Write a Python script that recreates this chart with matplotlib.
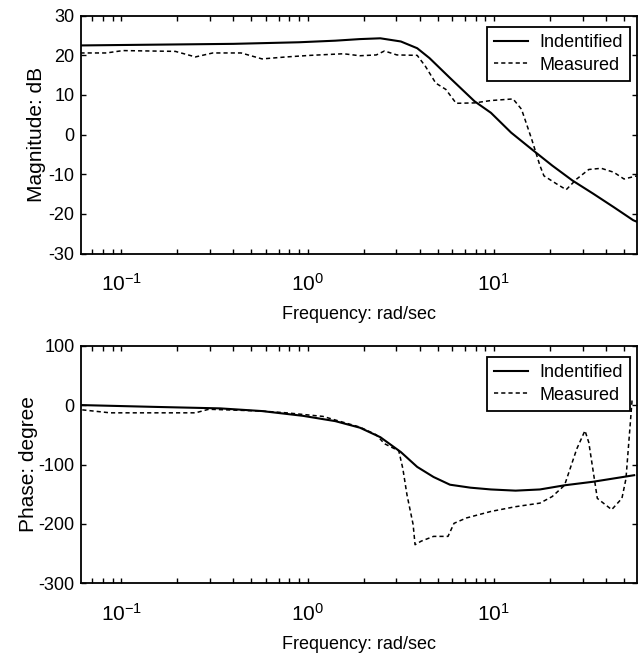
import numpy as np
import matplotlib
matplotlib.use("Agg")
import matplotlib.pyplot as plt
from matplotlib.ticker import LogLocator, NullFormatter

# magnitude data (rad/sec, dB)
f_mag_id = [0.0603, 0.40, 0.90, 1.41, 1.91, 2.46, 3.17, 3.88, 4.52, 5.82, 7.89,
            9.66, 12.4, 16.0, 20.6, 26.5, 34.2, 44.1, 56.1, 58.8]
mag_id = [22.5, 22.9, 23.3, 23.7, 24.1, 24.3, 23.5, 21.8, 19.3, 14.3, 8.4,
          5.5, 0.5, -3.7, -7.8, -11.6, -14.9, -18.3, -21.6, -22.0]

f_mag_meas = [0.0603, 0.083, 0.102, 0.195, 0.25, 0.31, 0.44, 0.57, 0.77, 1.04,
              1.56, 1.91, 2.34, 2.59, 3.02, 3.88, 4.30, 4.88, 5.53, 6.28, 7.89,
              9.66, 12.7, 14.1, 16.0, 17.7, 18.6, 21.7, 24.5, 27.9, 32.4, 37.8,
              44.1, 50.1, 58.8]
mag_meas = [20.6, 20.6, 21.2, 21.0, 19.6, 20.6, 20.6, 19.1, 19.6, 20.0,
            20.4, 19.9, 20.1, 21.1, 20.1, 20.0, 17.2, 13.0, 11.4, 7.9, 8.0,
            8.6, 9.0, 6.4, -1.2, -7.8, -10.4, -12.4, -13.9, -11.2, -8.8, -8.5,
            -9.5, -11.2, -10.4]

# phase data (rad/sec, degree)
f_ph_id = [0.0617, 0.151, 0.339, 0.568, 0.942, 1.41, 1.91, 2.46, 3.17, 3.88,
           4.75, 5.82, 7.5, 9.66, 13.1, 17.7, 24.0, 34.2, 56.8]
ph_id = [0, -3, -5.5, -10, -18, -27, -38, -54, -79, -104,
         -121, -134, -139, -142, -144, -142, -135, -129, -118]

f_ph_meas = [0.0617, 0.087, 0.25, 0.295, 0.568, 0.77, 1.21, 1.48, 1.91, 2.34,
             2.59, 3.09, 3.25, 3.42, 3.69, 3.78, 4.08, 4.75, 5.68, 6.12, 7.13,
             9.66, 13.1, 17.7, 20.6, 24.0, 27.9, 30.9, 32.4, 36.0, 43.0, 48.8,
             51.3, 55.3, 57.5]
ph_meas = [-8, -13, -13, -7, -10, -13, -19, -27, -37, -50,
           -65, -77, -107, -151, -201, -235, -229, -221, -221, -199, -190,
           -179, -171, -165, -154, -135, -74, -43, -63, -157, -176, -157,
           -124, 7, 5]

x_ticks = [0.1, 1, 10]
x_ticklabels = ["$\\mathregular{10^{-1}}$", "$\\mathregular{10^{0}}$", "$\\mathregular{10^{1}}$"]

plt.rcParams["font.family"] = "Liberation Sans"
plt.rcParams["mathtext.fontset"] = "custom"
plt.rcParams["mathtext.rm"] = "Liberation Sans"
plt.rcParams["axes.unicode_minus"] = False
plt.rcParams["lines.scale_dashes"] = False
plt.rcParams["axes.linewidth"] = 1.3

fig = plt.figure(figsize=(6.42, 6.60), dpi=100)
ax1 = fig.add_axes([0.1257, 0.6159, 0.8665, 0.3603])
ax2 = fig.add_axes([0.1257, 0.1162, 0.8665, 0.3600])

dash = (0, (3.0, 2.2))

ax1.plot(f_mag_id, mag_id, color="black", lw=1.5, label="Indentified")
ax1.plot(f_mag_meas, mag_meas, color="black", lw=1.1, linestyle=dash, label="Measured")
ax2.plot(f_ph_id, ph_id, color="black", lw=1.5, label="Indentified")
ax2.plot(f_ph_meas, ph_meas, color="black", lw=1.1, linestyle=dash, label="Measured")

ax1.set_ylim(-30, 30)
ax1.set_yticks([-30, -20, -10, 0, 10, 20, 30])
ax2.set_ylim(-300, 100)
ax2.set_yticks([-300, -200, -100, 0, 100])

for ax, ylab, lx in [(ax1, "Magnitude: dB", -0.062), (ax2, "Phase: degree", -0.077)]:
    ax.set_xscale("log")
    ax.set_xlim(0.0605, 58.8)
    ax.set_xticks(x_ticks)
    ax.set_xticklabels(x_ticklabels)
    ax.xaxis.set_minor_locator(LogLocator(base=10, subs=np.arange(2, 10)))
    ax.xaxis.set_minor_formatter(NullFormatter())
    ax.tick_params(which="both", direction="in", top=True, right=True,
                   length=3.8, width=1.0, labelsize=13)
    ax.tick_params(axis="x", which="major", labelsize=15, pad=14)
    ax.tick_params(axis="y", pad=4.5)
    ax.set_xlabel("Frequency: rad/sec", fontsize=13)
    ax.xaxis.set_label_coords(0.5, -0.22)
    ax.set_ylabel(ylab, fontsize=15)
    ax.yaxis.set_label_coords(lx, 0.5)
    leg = ax.legend(loc="upper right", bbox_to_anchor=(0.9874, 0.9525),
                    borderaxespad=0, fontsize=13, handlelength=1.9,
                    handletextpad=0.6, borderpad=0.4, labelspacing=0.3,
                    fancybox=False, framealpha=1, edgecolor="black")
    leg.get_frame().set_linewidth(1.3)

fig.savefig("out.png", dpi=100)
